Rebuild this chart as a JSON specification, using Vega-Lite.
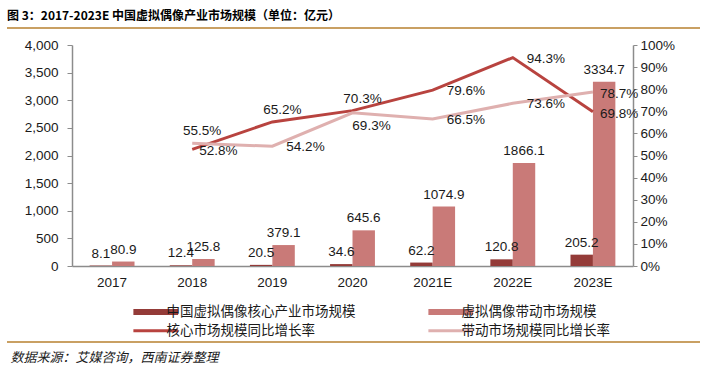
{
  "$schema": "https://vega.github.io/schema/vega-lite/v6.json",
  "width": 561,
  "height": 221,
  "autosize": {"type": "none"},
  "padding": {"left": 72, "top": 45, "right": 72, "bottom": 102},
  "background": "white",
  "config": {"view": {"stroke": null}, "font": "Liberation Sans"},
  "title": {
    "text": "图 3：2017-2023E 中国虚拟偶像产业市场规模（单位：亿元）",
    "anchor": "start",
    "frame": "group",
    "font": "Noto Sans CJK SC",
    "fontSize": 12,
    "fontWeight": "bold",
    "color": "#000000",
    "dx": -65,
    "offset": 4
  },
  "datasets": {
    "bars": [
      {"year": "2017", "series": "中国虚拟偶像核心产业市场规模", "value": 8.1},
      {"year": "2017", "series": "虚拟偶像带动市场规模", "value": 80.9},
      {"year": "2018", "series": "中国虚拟偶像核心产业市场规模", "value": 12.4},
      {"year": "2018", "series": "虚拟偶像带动市场规模", "value": 125.8},
      {"year": "2019", "series": "中国虚拟偶像核心产业市场规模", "value": 20.5},
      {"year": "2019", "series": "虚拟偶像带动市场规模", "value": 379.1},
      {"year": "2020", "series": "中国虚拟偶像核心产业市场规模", "value": 34.6},
      {"year": "2020", "series": "虚拟偶像带动市场规模", "value": 645.6},
      {"year": "2021E", "series": "中国虚拟偶像核心产业市场规模", "value": 62.2},
      {"year": "2021E", "series": "虚拟偶像带动市场规模", "value": 1074.9},
      {"year": "2022E", "series": "中国虚拟偶像核心产业市场规模", "value": 120.8},
      {"year": "2022E", "series": "虚拟偶像带动市场规模", "value": 1866.1},
      {"year": "2023E", "series": "中国虚拟偶像核心产业市场规模", "value": 205.2},
      {"year": "2023E", "series": "虚拟偶像带动市场规模", "value": 3334.7}
    ],
    "rates": [
      {"year": "2018", "series": "核心市场规模同比增长率", "rate": 0.528},
      {"year": "2019", "series": "核心市场规模同比增长率", "rate": 0.652},
      {"year": "2020", "series": "核心市场规模同比增长率", "rate": 0.703},
      {"year": "2021E", "series": "核心市场规模同比增长率", "rate": 0.796},
      {"year": "2022E", "series": "核心市场规模同比增长率", "rate": 0.943},
      {"year": "2023E", "series": "核心市场规模同比增长率", "rate": 0.698},
      {"year": "2018", "series": "带动市场规模同比增长率", "rate": 0.555},
      {"year": "2019", "series": "带动市场规模同比增长率", "rate": 0.542},
      {"year": "2020", "series": "带动市场规模同比增长率", "rate": 0.693},
      {"year": "2021E", "series": "带动市场规模同比增长率", "rate": 0.665},
      {"year": "2022E", "series": "带动市场规模同比增长率", "rate": 0.736},
      {"year": "2023E", "series": "带动市场规模同比增长率", "rate": 0.787}
    ]
  },
  "encoding": {
    "x": {
      "field": "year",
      "type": "ordinal",
      "sort": ["2017", "2018", "2019", "2020", "2021E", "2022E", "2023E"],
      "scale": {"paddingInner": 0.44, "paddingOuter": 0.22},
      "axis": {
        "title": "数据来源：艾媒咨询，西南证券整理",
        "labelAngle": 0,
        "labelFont": "Liberation Sans",
        "labelFontSize": 13.5,
        "labelColor": "#1a1a1a",
        "labelPadding": 9,
        "ticks": false,
        "domainColor": "#8c8c8c",
        "domainWidth": 1.5,
        "titleFont": "Noto Sans CJK SC",
        "titleFontStyle": "italic",
        "titleFontWeight": "normal",
        "titleFontSize": 13,
        "titleColor": "#1a1a1a",
        "titleAnchor": "start",
        "titleAlign": "left",
        "titleBaseline": "middle",
        "titleX": -62,
        "titleY": 91
      }
    }
  },
  "layer": [
    {
      "data": {"values": [{}]},
      "mark": {"type": "rule", "color": "#C9A063", "strokeWidth": 2},
      "encoding": {"x": {"value": -65}, "x2": {"value": 628}, "y": {"value": -17}}
    },
    {
      "data": {"values": [{}]},
      "mark": {"type": "rule", "color": "#C9A063", "strokeWidth": 2},
      "encoding": {"x": {"value": -65}, "x2": {"value": 628}, "y": {"value": 297}}
    },
    {
      "data": {"name": "bars"},
      "encoding": {
        "y": {
          "field": "value",
          "type": "quantitative",
          "scale": {"domain": [0, 4000]},
          "axis": {
            "title": null,
            "grid": false,
            "values": [0, 500, 1000, 1500, 2000, 2500, 3000, 3500, 4000],
            "format": ",.0f",
            "labelFont": "Liberation Sans",
            "labelFontSize": 13.5,
            "labelColor": "#1a1a1a",
            "tickSize": 5,
            "labelPadding": 9,
            "domainColor": "#8c8c8c",
            "tickColor": "#8c8c8c",
            "domainWidth": 1.5
          }
        },
        "xOffset": {
          "field": "series",
          "type": "nominal",
          "scale": {"domain": ["中国虚拟偶像核心产业市场规模", "虚拟偶像带动市场规模"], "paddingInner": 0, "paddingOuter": 0}
        }
      },
      "layer": [
        {
          "mark": {"type": "bar"},
          "encoding": {
            "color": {
              "field": "series",
              "type": "nominal",
              "scale": {
                "domain": ["中国虚拟偶像核心产业市场规模", "核心市场规模同比增长率", "虚拟偶像带动市场规模", "带动市场规模同比增长率"],
                "range": ["#943B38", "#B8433F", "#C97A78", "#DFB0AF"]
              },
              "legend": {
                "orient": "none",
                "legendX": 77,
                "legendY": 260,
                "padding": 0,
                "columns": 2,
                "title": null,
                "symbolType": "stroke",
                "symbolSize": 2000,
                "symbolStrokeWidth": 3,
                "labelFont": "Noto Sans CJK SC",
                "labelFontSize": 13.5,
                "labelColor": "#1a1a1a",
                "labelOffset": 4,
                "labelLimit": 400,
                "columnPadding": 60,
                "rowPadding": -8,
                "encode": {
                  "symbols": {
                    "update": {
                      "stroke": {"scale": "color", "field": "value"},
                      "strokeWidth": {"signal": "indexof(['中国虚拟偶像核心产业市场规模','虚拟偶像带动市场规模'], datum.value) >= 0 ? 6 : 3"}
                    }
                  }
                }
              }
            }
          }
        },
        {
          "mark": {"type": "text", "baseline": "bottom", "dy": -5, "fontSize": 13.5, "font": "Liberation Sans", "color": "#1a1a1a"},
          "encoding": {"text": {"field": "value", "type": "quantitative", "format": ".1f"}}
        }
      ]
    },
    {
      "data": {"name": "rates"},
      "encoding": {
        "y": {
          "field": "rate",
          "type": "quantitative",
          "scale": {"domain": [0, 1]},
          "axis": {
            "orient": "right",
            "title": null,
            "grid": false,
            "values": [0, 0.1, 0.2, 0.3, 0.4, 0.5, 0.6, 0.7, 0.8, 0.9, 1],
            "format": ".0%",
            "labelFont": "Liberation Sans",
            "labelFontSize": 13.5,
            "labelColor": "#1a1a1a",
            "tickSize": 4,
            "labelPadding": 3,
            "domainColor": "#8c8c8c",
            "tickColor": "#8c8c8c",
            "domainWidth": 1.5
          }
        }
      },
      "layer": [
        {
          "mark": {"type": "line", "strokeWidth": 3},
          "encoding": {
            "color": {
              "field": "series",
              "type": "nominal",
              "scale": {
                "domain": ["中国虚拟偶像核心产业市场规模", "核心市场规模同比增长率", "虚拟偶像带动市场规模", "带动市场规模同比增长率"],
                "range": ["#943B38", "#B8433F", "#C97A78", "#DFB0AF"]
              },
              "legend": {
                "orient": "none",
                "legendX": 77,
                "legendY": 260,
                "padding": 0,
                "columns": 2,
                "title": null,
                "symbolType": "stroke",
                "symbolSize": 2000,
                "symbolStrokeWidth": 3,
                "labelFont": "Noto Sans CJK SC",
                "labelFontSize": 13.5,
                "labelColor": "#1a1a1a",
                "labelOffset": 4,
                "labelLimit": 400,
                "columnPadding": 60,
                "rowPadding": -8,
                "encode": {
                  "symbols": {
                    "update": {
                      "stroke": {"scale": "color", "field": "value"},
                      "strokeWidth": {"signal": "indexof(['中国虚拟偶像核心产业市场规模','虚拟偶像带动市场规模'], datum.value) >= 0 ? 6 : 3"}
                    }
                  }
                }
              }
            }
          }
        },
        {
          "transform": [{"filter": "(datum.series == '核心市场规模同比增长率' && (datum.year == '2018' || datum.year == '2023E')) || (datum.series == '带动市场规模同比增长率' && datum.year == '2023E')"}],
          "mark": {"type": "text", "align": "left", "baseline": "middle", "dx": 7, "dy": 2, "fontSize": 13.5, "font": "Liberation Sans", "color": "#1a1a1a"},
          "encoding": {"text": {"field": "rate", "type": "quantitative", "format": ".1%"}}
        },
        {
          "transform": [{"filter": "(datum.series == '核心市场规模同比增长率' && (datum.year == '2021E' || datum.year == '2022E')) || (datum.series == '带动市场规模同比增长率' && (datum.year == '2019' || datum.year == '2021E' || datum.year == '2022E'))"}],
          "mark": {"type": "text", "align": "left", "baseline": "middle", "dx": 14, "dy": 1, "fontSize": 13.5, "font": "Liberation Sans", "color": "#1a1a1a"},
          "encoding": {"text": {"field": "rate", "type": "quantitative", "format": ".1%"}}
        },
        {
          "transform": [{"filter": "(datum.series == '核心市场规模同比增长率' && (datum.year == '2019' || datum.year == '2020')) || (datum.series == '带动市场规模同比增长率' && datum.year == '2018')"}],
          "mark": {"type": "text", "align": "center", "baseline": "middle", "dx": 10, "dy": -12, "fontSize": 13.5, "font": "Liberation Sans", "color": "#1a1a1a"},
          "encoding": {"text": {"field": "rate", "type": "quantitative", "format": ".1%"}}
        },
        {
          "transform": [{"filter": "datum.series == '带动市场规模同比增长率' && datum.year == '2020'"}],
          "mark": {"type": "text", "align": "center", "baseline": "middle", "dx": 19, "dy": 13, "fontSize": 13.5, "font": "Liberation Sans", "color": "#1a1a1a"},
          "encoding": {"text": {"field": "rate", "type": "quantitative", "format": ".1%"}}
        }
      ]
    }
  ],
  "resolve": {"scale": {"y": "independent"}}
}
